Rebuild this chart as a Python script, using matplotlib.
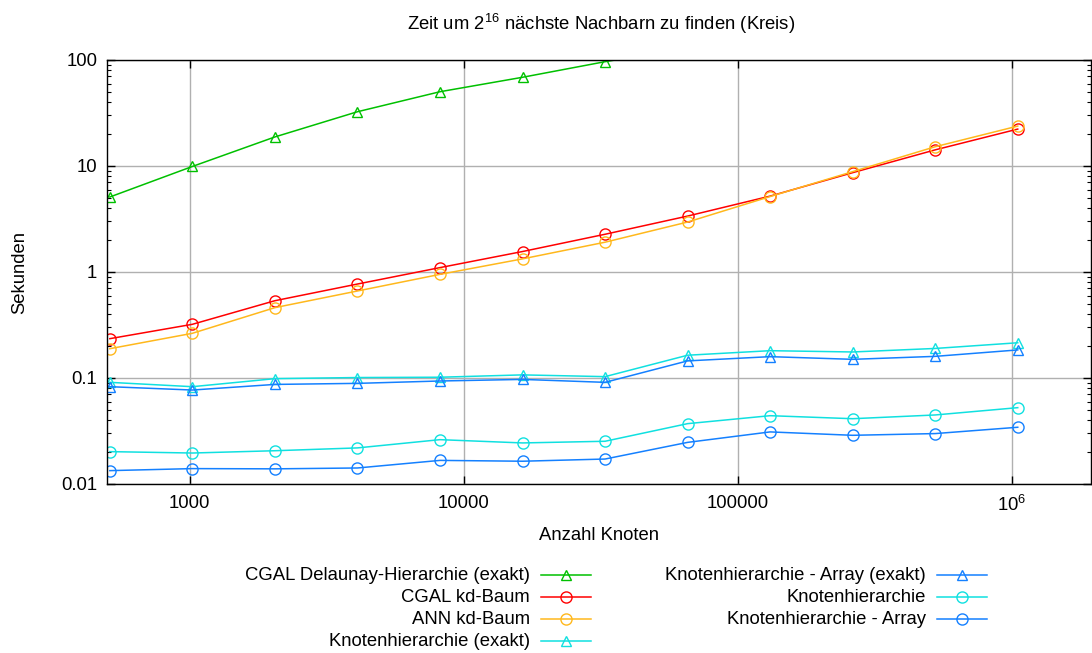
import matplotlib
matplotlib.use('Agg')
import matplotlib.pyplot as plt
from matplotlib.lines import Line2D
from matplotlib.ticker import FixedLocator, NullLocator, LogLocator, NullFormatter

plt.rcParams['font.family'] = ['Liberation Sans', 'DejaVu Sans']
plt.rcParams['mathtext.default'] = 'regular'

# anzahl knoten: 2^9 .. 2^20
nodes = [2 ** k for k in range(9, 21)]

delaunay = [5.1, 9.9, 18.8, 32.5, 50.2, 68.7, 96.4, 130.0]
cgal_kd = [0.235, 0.321, 0.536, 0.77, 1.1, 1.56, 2.27, 3.37, 5.2, 8.65, 14.2, 22.3]
ann_kd = [0.189, 0.264, 0.461, 0.662, 0.95, 1.33, 1.91, 2.96, 5.15, 8.85, 15.2, 23.8]
kh_exakt = [0.091, 0.0828, 0.0986, 0.101, 0.1017, 0.107, 0.103, 0.164, 0.181, 0.176, 0.19, 0.215]
kh_array_exakt = [0.0828, 0.077, 0.087, 0.089, 0.0937, 0.097, 0.091, 0.145, 0.159, 0.15, 0.16, 0.184]
kh = [0.0202, 0.0196, 0.0206, 0.0219, 0.0262, 0.0244, 0.0253, 0.0371, 0.0441, 0.0413, 0.0448, 0.0525]
kh_array = [0.01337, 0.01397, 0.0139, 0.01416, 0.0167, 0.0164, 0.0172, 0.0247, 0.031, 0.0288, 0.0299, 0.0343]

xticks = [1000, 10000, 100000, 1000000]
xlabels = ['1000', '10000', '100000', '$10^{6}$']
yticks = [0.01, 0.1, 1, 10, 100]
ylabels = ['0.01', '0.1', '1', '10', '100']

series = [
    ('CGAL Delaunay-Hierarchie (exakt)', delaunay, '#00c000', '^'),
    ('CGAL kd-Baum', cgal_kd, '#ff0000', 'o'),
    ('ANN kd-Baum', ann_kd, '#ffb81c', 'o'),
    ('Knotenhierarchie (exakt)', kh_exakt, '#10e0e0', '^'),
    ('Knotenhierarchie - Array (exakt)', kh_array_exakt, '#1480ff', '^'),
    ('Knotenhierarchie', kh, '#10e0e0', 'o'),
    ('Knotenhierarchie - Array', kh_array, '#1480ff', 'o'),
]

FS = 13.3
W, H = 1092, 653
fig = plt.figure(figsize=(W / 100, H / 100), dpi=100)
ax = fig.add_axes([107 / W, 1 - 484 / H, (1091 - 107) / W, (484 - 60) / H])

for label, vals, col, mk in series:
    ms = 8 if mk == 'o' else 7.5
    ax.plot(nodes[:len(vals)], vals, color=col, lw=1.1, marker=mk, ms=ms,
            mfc='none', mec=col, mew=1.0)

ax.set_xscale('log')
ax.set_yscale('log')
ax.set_xlim(500, 1.94e6)
ax.set_ylim(0.01, 100)

ax.xaxis.set_major_locator(FixedLocator(xticks))
ax.set_xticklabels(xlabels)
ax.xaxis.set_minor_locator(NullLocator())
ax.yaxis.set_major_locator(FixedLocator(yticks))
ax.set_yticklabels(ylabels)
ax.yaxis.set_minor_locator(LogLocator(base=10, subs=range(2, 10)))
ax.yaxis.set_minor_formatter(NullFormatter())

ax.tick_params(which='both', direction='in', top=True, right=True, labelsize=FS)
ax.tick_params(which='major', length=6, width=1)
ax.tick_params(which='minor', length=3, width=0.8)
ax.tick_params(axis='x', pad=8)
ax.tick_params(axis='y', pad=7)
ax.grid(True, which='major', color='#b0b0b0', lw=1)
ax.set_axisbelow(True)
for sp in ax.spines.values():
    sp.set_linewidth(1)

fig.text(601 / W, 1 - 24 / H, 'Zeit um $2^{16}$ nächste Nachbarn zu finden (Kreis)',
         ha='center', va='center', fontsize=FS)
fig.text(599 / W, 1 - 535 / H, 'Anzahl Knoten', ha='center', va='center', fontsize=FS)
fig.text(20 / W, 1 - 272 / H, 'Sekunden', ha='center', va='center', rotation=90, fontsize=FS)

# legend, gnuplot style: text right aligned, sample on the right
cols = [(530, 541, 591), (926, 937, 987)]
rows = [575, 597, 619, 641]
for i, (label, vals, col, mk) in enumerate(series):
    c = 0 if i < 4 else 1
    r = i if i < 4 else i - 4
    tx, x0, x1 = cols[c]
    y = 1 - rows[r] / H
    fig.text(tx / W, y, label, ha='right', va='center', fontsize=FS)
    ms = 8 if mk == 'o' else 7.5
    fig.add_artist(Line2D([x0 / W, x1 / W], [y, y], color=col, lw=1.1))
    fig.add_artist(Line2D([(x0 + x1) / 2 / W], [y], color=col, marker=mk, ms=ms,
                          mfc='none', mec=col, mew=1.0, lw=0))

fig.savefig('out.png', dpi=100)
